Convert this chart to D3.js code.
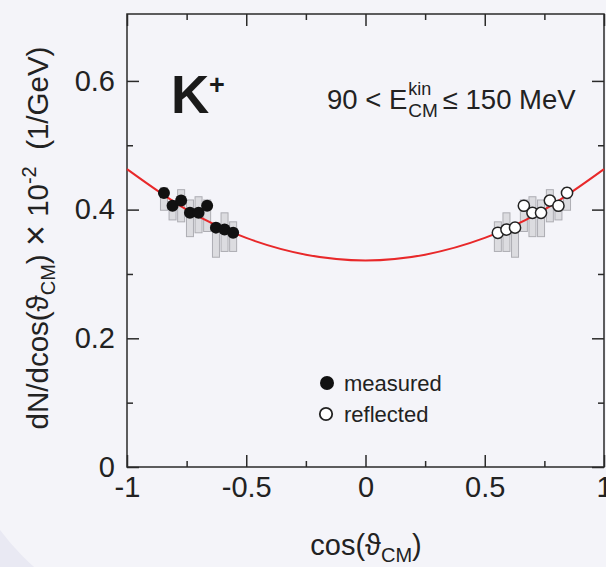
<!DOCTYPE html>
<html><head><meta charset="utf-8">
<script src="https://cdn.jsdelivr.net/npm/d3@7"></script>
<style>html,body{margin:0;padding:0;background:#f3f3f8;} svg{display:block;font-family:"Liberation Sans",Arial,Helvetica,sans-serif;}</style>
</head><body><svg id="c" width="606" height="567"></svg>
<script>
// ---- data ----
const measuredX  = [-0.845,-0.809,-0.773,-0.736,-0.700,-0.664,-0.627,-0.591,-0.555];
const measuredY  = [0.426,0.406,0.414,0.395,0.395,0.406,0.372,0.369,0.364];
const measuredLo = [0.399,0.384,0.381,0.358,0.364,0.366,0.326,0.335,0.335];
const measuredHi = [0.434,0.412,0.431,0.415,0.420,0.415,0.379,0.395,0.381];
const reflectedX  = [0.555,0.591,0.627,0.664,0.700,0.736,0.773,0.809,0.845];
const reflectedY  = [0.364,0.369,0.372,0.406,0.395,0.395,0.414,0.406,0.426];
const reflectedLo = [0.335,0.335,0.326,0.366,0.358,0.358,0.381,0.384,0.399];
const reflectedHi = [0.381,0.395,0.379,0.415,0.420,0.415,0.431,0.412,0.434];
const fitX = [-1,-0.75,-0.5,-0.25,0,0.25,0.5,0.75,1];
const fitY = [0.463,0.400,0.356,0.330,0.321,0.330,0.356,0.400,0.463];
const xTickValues = [-1,-0.5,0,0.5,1];
const xTickLabels = ["-1","-0.5","0","0.5","1"];
const xMinorTicks = [-0.75,-0.25,0.25,0.75];
const yTickValues = [0,0.2,0.4,0.6];
const yTickLabels = ["0","0.2","0.4","0.6"];
const yMinorTicks = [0.1,0.3,0.5];
const legendLabels = ["measured","reflected"];

// ---- layout ----
const svg = d3.select("#c");
const L = 127, R = 604, T = 14, B = 467;
const x = d3.scaleLinear().domain([-1,1]).range([L,R]);
const y = d3.scaleLinear().domain([0,0.704]).range([B,T]);
const ink = "#2a2a2a";

// background panel with rounded lower-left corner
svg.append("rect").attr("width",606).attr("height",567).attr("fill","#e9e9f3");
svg.append("rect").attr("x",-50).attr("y",-300).attr("width",1000).attr("height",930)
  .attr("rx",250).attr("fill","#f4f4f9");

// axes
function styleAxis(g){ g.select(".domain").remove(); g.selectAll("line").attr("stroke",ink).attr("stroke-width",1.5);
  g.selectAll("text").attr("fill","#222").style("font-family","'Liberation Sans',Arial,sans-serif"); }
const fmtX = d => xTickLabels[xTickValues.indexOf(d)];
const fmtY = d => yTickLabels[yTickValues.indexOf(d)];

svg.append("g").attr("transform",`translate(0,${B})`)
  .call(d3.axisBottom(x).tickValues(xTickValues).tickSize(-12).tickPadding(9).tickFormat(fmtX))
  .call(styleAxis).call(g=>g.selectAll("text").style("font-size","29px"));
svg.append("g").attr("transform",`translate(0,${B})`)
  .call(d3.axisBottom(x).tickValues(xMinorTicks).tickSize(-6).tickFormat("")).call(styleAxis);
svg.append("g").attr("transform",`translate(0,${T})`)
  .call(d3.axisTop(x).tickValues(xTickValues).tickSize(-12).tickFormat("")).call(styleAxis);
svg.append("g").attr("transform",`translate(0,${T})`)
  .call(d3.axisTop(x).tickValues(xMinorTicks).tickSize(-6).tickFormat("")).call(styleAxis);
svg.append("g").attr("transform",`translate(${L},0)`)
  .call(d3.axisLeft(y).tickValues(yTickValues).tickSize(-12).tickPadding(12).tickFormat(fmtY))
  .call(styleAxis).call(g=>g.selectAll("text").style("font-size","29px"));
svg.append("g").attr("transform",`translate(${L},0)`)
  .call(d3.axisLeft(y).tickValues(yMinorTicks).tickSize(-6).tickFormat("")).call(styleAxis);
svg.append("g").attr("transform",`translate(${R},0)`)
  .call(d3.axisRight(y).tickValues(yTickValues).tickSize(-12).tickFormat("")).call(styleAxis);
svg.append("g").attr("transform",`translate(${R},0)`)
  .call(d3.axisRight(y).tickValues(yMinorTicks).tickSize(-6).tickFormat("")).call(styleAxis);

svg.append("rect").attr("x",L).attr("y",T).attr("width",R-L).attr("height",B-T)
  .attr("fill","none").attr("stroke",ink).attr("stroke-width",1.5);

// error boxes
function boxes(xs, lo, hi){
  svg.append("g").selectAll("rect").data(xs).join("rect")
    .attr("x",(d)=>x(d)-3.5).attr("width",7)
    .attr("y",(d,i)=>y(hi[i])).attr("height",(d,i)=>y(lo[i])-y(hi[i]))
    .attr("fill","#dcdce0").attr("stroke","#adadb3").attr("stroke-width",1);
}
boxes(measuredX, measuredLo, measuredHi);
boxes(reflectedX, reflectedLo, reflectedHi);

// fit curve
svg.append("path").datum(fitX.map((d,i)=>[d,fitY[i]]))
  .attr("d", d3.line().x(d=>x(d[0])).y(d=>y(d[1])).curve(d3.curveNatural))
  .attr("fill","none").attr("stroke","#e8282a").attr("stroke-width",2);

// points
svg.append("g").selectAll("circle").data(measuredX).join("circle")
  .attr("cx",d=>x(d)).attr("cy",(d,i)=>y(measuredY[i])).attr("r",6).attr("fill","#111");
svg.append("g").selectAll("circle").data(reflectedX).join("circle")
  .attr("cx",d=>x(d)).attr("cy",(d,i)=>y(reflectedY[i])).attr("r",5.6)
  .attr("fill","#fff").attr("stroke","#222").attr("stroke-width",1.5);

// legend
svg.append("circle").attr("cx",327).attr("cy",383).attr("r",7).attr("fill","#111");
svg.append("circle").attr("cx",326).attr("cy",414).attr("r",6.2).attr("fill","#fff").attr("stroke","#222").attr("stroke-width",1.8);
svg.append("text").attr("x",344).attr("y",391).attr("font-size",22).attr("fill","#222").text(legendLabels[0]);
svg.append("text").attr("x",344).attr("y",422).attr("font-size",22).attr("fill","#222").text(legendLabels[1]);

// K+
svg.append("text").attr("x",171).attr("y",113).attr("font-size",53).attr("font-weight","bold").attr("fill","#1a1a1a").text("K");
svg.append("text").attr("x",209).attr("y",94).attr("font-size",27).attr("font-weight","bold").attr("fill","#1a1a1a").text("+");

// energy label
(function(){
  const base = 109, fs = 27.5;
  const t1 = svg.append("text").attr("x",327).attr("y",base).attr("font-size",fs).attr("fill","#222").text("90 < E");
  const x1 = 327 + t1.node().getComputedTextLength() + 1;
  const sup = svg.append("text").attr("x",x1).attr("y",base-14).attr("font-size",18).attr("fill","#222").text("kin");
  const sub = svg.append("text").attr("x",x1).attr("y",base+8).attr("font-size",19).attr("fill","#222").text("CM");
  const w = Math.max(sup.node().getComputedTextLength(), sub.node().getComputedTextLength());
  svg.append("text").attr("x",x1+w+5).attr("y",base).attr("font-size",fs).attr("fill","#222").text("≤ 150 MeV");
})();

// x title
const xt = svg.append("text").attr("x",366).attr("y",555).attr("text-anchor","middle").attr("font-size",29).attr("fill","#222");
xt.append("tspan").text("cos(ϑ");
xt.append("tspan").attr("font-size",20).attr("dy",7).text("CM");
xt.append("tspan").attr("dy",-7).text(")");

// y title
const yt = svg.append("text").attr("transform","translate(48,238) rotate(-90)").attr("text-anchor","middle").attr("font-size",29.5).attr("fill","#222");
yt.append("tspan").text("dN/dcos(ϑ");
yt.append("tspan").attr("font-size",20).attr("dy",7).text("CM");
yt.append("tspan").attr("dy",-7).text(") ");
yt.append("tspan").attr("font-size",36).text("×");
yt.append("tspan").text(" 10");
yt.append("tspan").attr("font-size",20).attr("dy",-12).text("-2");
yt.append("tspan").attr("dy",12).text("\u00A0\u00A0(1/GeV)");
</script></body></html>
